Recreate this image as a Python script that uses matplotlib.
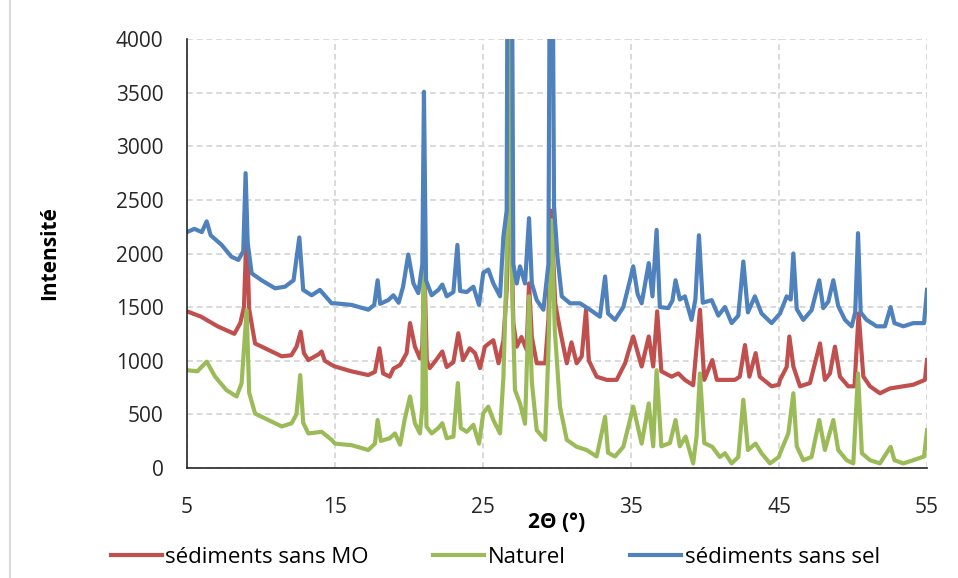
import matplotlib.pyplot as plt
from matplotlib.lines import Line2D

# 2theta / intensity
tth_sans_mo = [5.0, 5.95, 7.07, 8.2, 8.6, 8.85, 9.03, 9.2, 9.6, 10.5, 11.4, 12.05, 12.4, 12.68, 12.9,
               13.2, 13.9, 14.1, 14.3, 14.77, 15.0, 16.1, 17.25, 17.7, 18.0, 18.25, 18.7, 18.95, 19.4,
               19.84, 20.07, 20.4, 20.74, 20.9, 21.04, 21.2, 21.4, 21.75, 22.25, 22.55, 23.0, 23.33,
               23.65, 24.1, 24.46, 24.8, 25.13, 25.4, 25.7, 26.05, 26.38, 26.6, 26.8, 27.05, 27.28,
               27.6, 27.95, 28.11, 28.3, 28.63, 29.2, 29.42, 29.6, 29.88, 30.2, 30.66, 30.98, 31.33,
               31.67, 31.96, 32.15, 32.68, 33.36, 34.03, 34.6, 34.93, 35.15, 35.72, 36.2, 36.5, 36.77,
               37.05, 37.74, 38.2, 38.64, 39.2, 39.66, 39.95, 40.49, 40.8, 41.35, 42.02, 42.35, 42.7,
               43.0, 43.42, 43.7, 44.5, 44.99, 45.07, 45.52, 45.7, 45.97, 46.42, 47.09, 47.77, 48.1,
               48.44, 48.78, 49.12, 49.68, 50.1, 50.38, 50.7, 51.15, 51.82, 52.5, 53.4, 54.07, 54.86, 55.0]
int_sans_mo = [1460, 1410, 1320, 1250, 1350, 1500, 2250, 1480, 1160, 1100, 1040, 1050, 1130, 1270, 1070,
               1005, 1060, 1085, 1000, 960, 945, 900, 865, 895, 1115, 880, 850, 925, 960,
               1070, 1350, 1130, 1020, 1130, 1900, 1000, 930, 990, 1085, 940, 985, 1255,
               1005, 1115, 1070, 930, 1130, 1160, 1190, 975, 1190, 1660, 2950, 1350, 1130,
               1220, 1100, 1720, 1220, 975, 975, 1380, 2400, 1535, 1290, 975, 1170, 975,
               1040, 1475, 1000, 850, 820, 820, 975, 1130, 1225, 945, 1225, 945, 1460,
               900, 850, 880, 820, 770, 1475, 820, 1005, 820, 820, 820, 850, 1145,
               850, 1070, 850, 760, 775, 820, 940, 1225, 945, 760, 790, 1160, 820,
               880, 1130, 850, 760, 760, 1440, 850, 760, 695, 740, 760, 775, 820, 1005]

tth_naturel = [5.0, 5.7, 6.33, 6.9, 7.66, 8.35, 8.69, 9.03, 9.2, 9.6, 10.5, 11.4, 12.07, 12.4, 12.65,
               12.85, 13.2, 14.1, 14.77, 15.0, 16.13, 17.25, 17.7, 17.88, 18.1, 18.7, 19.05, 19.4, 19.7,
               20.07, 20.4, 20.74, 20.9, 21.0, 21.18, 21.53, 21.98, 22.25, 22.55, 23.0, 23.3, 23.5,
               23.9, 24.35, 24.73, 25.02, 25.36, 25.7, 26.15, 26.38, 26.6, 26.78, 26.92, 27.16, 27.5,
               27.84, 28.11, 28.3, 28.63, 29.2, 29.42, 29.64, 29.85, 30.2, 30.66, 31.33, 32.0, 32.68,
               33.25, 33.45, 33.92, 34.48, 34.93, 35.15, 35.72, 36.2, 36.5, 36.73, 37.05, 37.63, 38.01,
               38.3, 38.69, 39.2, 39.43, 39.66, 39.95, 40.49, 41.0, 41.35, 41.8, 42.25, 42.59, 42.9,
               43.42, 43.82, 44.39, 44.99, 45.07, 45.63, 45.97, 46.2, 46.64, 47.2, 47.72, 48.1, 48.67,
               49.0, 49.57, 50.02, 50.34, 50.6, 51.15, 51.82, 52.54, 52.8, 53.4, 54.07, 54.8, 55.0]
int_naturel = [910, 900, 990, 850, 725, 665, 790, 1470, 700, 505, 445, 385, 415, 500, 865,
               420, 320, 335, 260, 225, 210, 165, 225, 445, 250, 275, 320, 215, 445,
               665, 415, 320, 570, 2220, 385, 320, 370, 415, 275, 290, 790, 370,
               335, 400, 225, 510, 570, 445, 320, 850, 1910, 5000, 1910, 725, 600,
               410, 1600, 800, 350, 260, 1090, 2310, 1290, 570, 260, 195, 165, 105,
               475, 140, 105, 195, 445, 570, 225, 600, 200, 910, 200, 230, 445,
               200, 290, 40, 290, 880, 230, 195, 100, 135, 40, 100, 635, 165,
               225, 135, 40, 100, 135, 320, 695, 200, 70, 100, 445, 165, 445,
               165, 70, 40, 880, 135, 70, 40, 195, 70, 40, 70, 105, 350]

tth_sans_sel = [5.0, 5.5, 6.0, 6.33, 6.6, 7.34, 8.0, 8.47, 8.8, 8.96, 9.1, 9.37, 10.04, 10.95, 11.62,
                12.2, 12.59, 12.85, 13.42, 13.98, 14.77, 15.0, 16.13, 17.25, 17.65, 17.88, 18.05, 18.6,
                18.94, 19.3, 19.6, 19.95, 20.3, 20.63, 20.9, 21.01, 21.15, 21.53, 21.98, 22.25, 22.55,
                23.0, 23.27, 23.45, 23.9, 24.35, 24.73, 25.02, 25.36, 25.7, 26.15, 26.38, 26.6, 26.66,
                26.95, 27.05, 27.28, 27.5, 27.84, 28.11, 28.3, 28.63, 29.08, 29.42, 29.52, 29.7, 29.8,
                30.03, 30.32, 30.88, 31.56, 32.23, 32.9, 33.25, 33.45, 33.92, 34.48, 34.93, 35.15, 35.45,
                35.72, 36.2, 36.45, 36.73, 36.95, 37.52, 37.8, 38.01, 38.3, 38.64, 39.09, 39.35, 39.59,
                39.85, 40.45, 40.9, 41.35, 41.8, 42.25, 42.59, 42.9, 43.37, 43.82, 44.5, 45.07, 45.52,
                45.79, 45.97, 46.2, 46.64, 47.2, 47.72, 47.99, 48.33, 48.67, 49.0, 49.46, 49.91, 50.15,
                50.34, 50.52, 50.92, 51.6, 52.16, 52.54, 52.8, 53.4, 54.07, 54.8, 55.0]
int_sans_sel = [2200, 2230, 2200, 2300, 2170, 2080, 1970, 1940, 2020, 2750, 2100, 1815, 1750, 1675, 1690,
                1750, 2150, 1660, 1610, 1660, 1535, 1535, 1520, 1475, 1520, 1750, 1530, 1565,
                1610, 1540, 1690, 1990, 1720, 1630, 1900, 3510, 1750, 1610, 1660, 1710, 1600,
                1640, 2080, 1650, 1640, 1690, 1520, 1820, 1850, 1720, 1600, 2160, 2400, 5000,
                5000, 1900, 1720, 1880, 1720, 2330, 1720, 1565, 1475, 1900, 5000, 5000, 2440,
                1970, 1600, 1535, 1535, 1475, 1410, 1785, 1440, 1380, 1500, 1750, 1880, 1620,
                1535, 1910, 1600, 2220, 1500, 1490, 1560, 1750, 1570, 1600, 1380, 1570, 2170,
                1540, 1565, 1420, 1500, 1350, 1420, 1925, 1450, 1600, 1440, 1350, 1440, 1600,
                1570, 2000, 1480, 1380, 1470, 1750, 1490, 1550, 1750, 1510, 1380, 1320, 1450,
                2190, 1450, 1380, 1320, 1320, 1500, 1350, 1320, 1350, 1350, 1660]

x_ticks = [5, 15, 25, 35, 45, 55]
y_ticks = [0, 500, 1000, 1500, 2000, 2500, 3000, 3500, 4000]

plt.rcParams['font.family'] = ['Open Sans', 'DejaVu Sans']

fig = plt.figure(figsize=(9.58, 5.78), dpi=100)
ax = fig.add_axes([187 / 958, 1 - 467.7 / 578, 740 / 958, 428.4 / 578])

ax.plot(tth_sans_mo, int_sans_mo, color='#C0504D', lw=3.0, label='sédiments sans MO')
ax.plot(tth_naturel, int_naturel, color='#9BBB59', lw=3.0, label='Naturel')
ax.plot(tth_sans_sel, int_sans_sel, color='#4F81BD', lw=3.0, label='sédiments sans sel')

ax.set_xlim(5, 55)
ax.set_ylim(0, 4000)
ax.set_xticks(x_ticks)
ax.set_yticks(y_ticks)
ax.grid(True, color='#d9d9d9', lw=1.4, ls=(0, (3, 2)))
ax.set_axisbelow(True)
ax.tick_params(length=0, labelsize=15, colors='#262626')
ax.tick_params(axis='x', pad=21)
ax.tick_params(axis='y', pad=17)
for side in ['top', 'right']:
    ax.spines[side].set_visible(False)
for side in ['left', 'bottom']:
    ax.spines[side].set_color('#262626')
    ax.spines[side].set_linewidth(1.2)

ax.set_xlabel('2Θ (°)', fontsize=15, fontweight='bold', labelpad=-4)
ax.set_ylabel('Intensité', fontsize=15, fontweight='bold', labelpad=40)

fig.legend(loc='center', bbox_to_anchor=(0.517, 0.035), ncol=3, frameon=False,
           fontsize=16, handlelength=2.3, handletextpad=0.15, columnspacing=2.9)

fig.add_artist(Line2D([10 / 958, 10 / 958], [0, 1], color='#d9d9d9', lw=1.5))

fig.savefig('out.png', dpi=100)
